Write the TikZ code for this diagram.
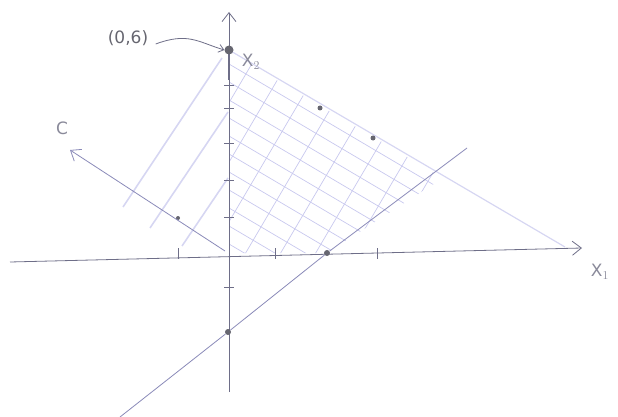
\documentclass[tikz,border=0pt]{standalone}
\usetikzlibrary{arrows.meta}
\usepackage{fontspec}
\setmainfont{DejaVu Sans}
\definecolor{axisc}{HTML}{6E6E88}
\definecolor{pencil}{HTML}{8A8AB8}
\definecolor{hatch}{HTML}{C8C8EE}
\definecolor{faint}{HTML}{D6D6F2}
\definecolor{dotc}{HTML}{666670}
\definecolor{labc}{HTML}{8A8A9A}
\tikzset{
  axis/.style={draw=axisc, line width=0.8pt, -{Straight Barb[length=9pt,width=14pt,line width=0.8pt]}},
  pline/.style={draw=pencil, line width=0.8pt},
  hline/.style={draw=hatch, line width=0.7pt},
  fline/.style={draw=faint, line width=1.6pt},
  tick/.style={draw=axisc, line width=0.7pt},
  pt/.style={circle, fill=dotc, inner sep=0pt, minimum size=6pt},
  bigpt/.style={circle, fill=dotc, inner sep=0pt, minimum size=9pt},
  hand/.style={text=labc, font=\fontsize{17}{20}\selectfont},
}
\begin{document}
\begin{tikzpicture}[x=1pt,y=-1pt]
\useasboundingbox (0,0) rectangle (618,417);
% hatched feasible region
\begin{scope}
  \clip (229,52) -- (443,178) -- (327,253) -- (229,253) -- cycle;
  \foreach \y in {64,82,100,118,136,154,172,190,208,226,244}
    \draw[hline] (229,\y) -- ++(400,236);
  \foreach \x in {252,278,304,330,356,382,408,434}
    \draw[hline] ({\x-150},{50+0.59*(\x-229)+255}) -- ++(250,-425);
\end{scope}
% faint lines left of axis
\draw[fline] (123,207) -- (222,58);
\draw[fline] (150,228) -- (228,112);
\draw[fline] (182,246) -- (228,178);
% constraint lines
\draw[draw=faint, line width=1.2pt] (229,50) -- (565,247);
\coordinate (lb) at (120,417);
\coordinate (rt) at (467,148);
% axes
\coordinate (xs) at (10,262);
\coordinate (xe) at (582,248);
\coordinate (ys) at (229,392);
\coordinate (ye) at (229,12);
\draw[axis] (xs) -- (xe);
\draw[axis] (ys) -- (ye);
\draw[line width=1.8pt, draw=axisc] (229,46) -- (229,80);
% ticks
\foreach \y in {85,108,143,180,217,287}
  \draw[tick] (224,\y) -- (234,\y);
\foreach \x in {178,275,377}
  \draw[tick] (\x,248) -- (\x,259);
% points
\node[bigpt] (p06) at (229,50) {};
\node[pt] (px2) at (327,253) {};
\node[pt] (pym2) at (228,332) {};
\node[pt, minimum size=4pt] (pc) at (178,218) {};
\node[pt, minimum size=5pt] (pa) at (320,108) {};
\node[pt, minimum size=5pt] (pb) at (373,138) {};
\draw[pline] (lb) -- (pym2) -- (px2) -- (rt);
% objective direction c
\coordinate (o) at (225,251);
\coordinate (ctip) at (70,150);
\draw[axis, draw=pencil] (o) -- (ctip);
\node[hand] (lc) at (62,128) {C};
% labels
\node[hand] (lx1) at (600,272) {X$_1$};
\node[hand] (lx2) at (251,62) {X$_2$};
\node[hand, text=dotc] (l06) at (128,38) {(0,6)};
\draw[draw=axisc, line width=0.8pt, -{Straight Barb[length=5pt,width=8pt]}] (l06.east) ++(4,6) .. controls (188,32) and (198,42) .. (p06.west);
\end{tikzpicture}
\end{document}
